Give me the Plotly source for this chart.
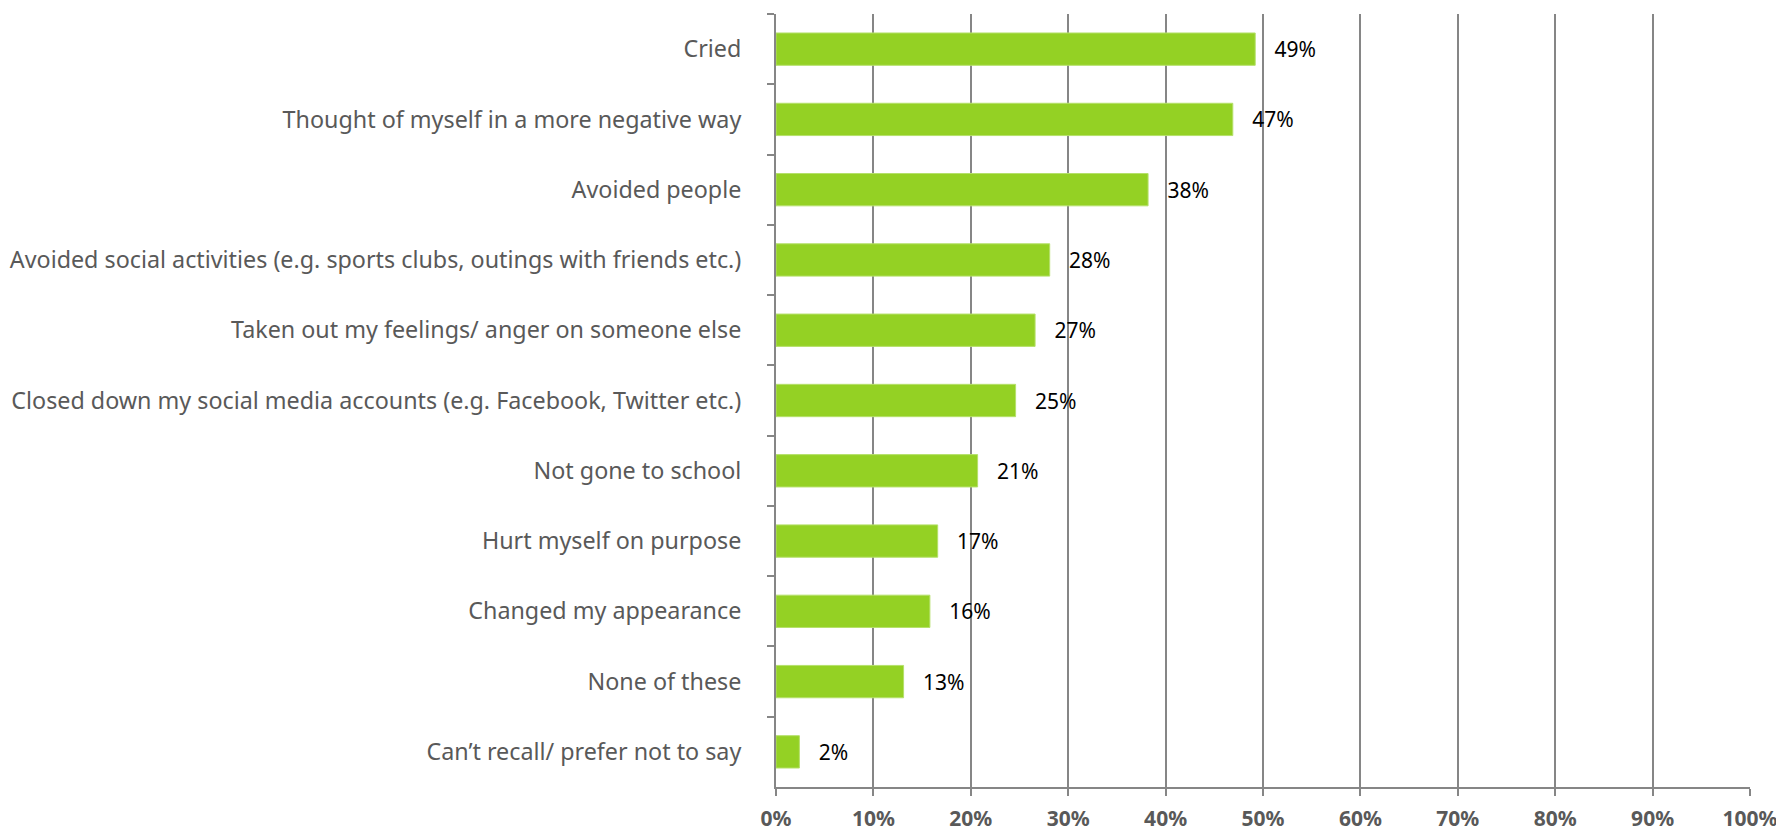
import plotly.graph_objects as go

categories = [
    "Cried",
    "Thought of myself in a more negative way",
    "Avoided people",
    "Avoided social activities (e.g. sports clubs, outings with friends etc.)",
    "Taken out my feelings/ anger on someone else",
    "Closed down my social media accounts (e.g. Facebook, Twitter etc.)",
    "Not gone to school",
    "Hurt myself on purpose",
    "Changed my appearance",
    "None of these",
    "Can\u2019t recall/ prefer not to say",
]
values = [49.2, 46.9, 38.2, 28.1, 26.6, 24.6, 20.7, 16.6, 15.8, 13.1, 2.4]
x_ticks = [0, 10, 20, 30, 40, 50, 60, 70, 80, 90, 100]
x_tick_labels = [f"{t}%" for t in x_ticks]

GRAY = "#868686"
FONT = "Noto Sans"

fig = go.Figure(
    go.Bar(
        y=categories,
        x=values,
        orientation="h",
        marker=dict(color="#94D124", line=dict(color="#B5E06A", width=1)),
        texttemplate="\u00a0\u00a0\u00a0%{x:.0f}%",
        textposition="outside",
        textfont=dict(family=FONT, size=21, color="#000000"),
        cliponaxis=False,
        hoverinfo="skip",
    )
)

# page body has an 8px default margin, so the figure is sized/margined to compensate
fig.update_layout(
    width=1776,
    height=824,
    margin=dict(l=768, r=34, t=6, b=45, autoexpand=False),
    paper_bgcolor="white",
    plot_bgcolor="white",
    bargap=0.54,
    showlegend=False,
)

fig.update_yaxes(
    autorange="reversed",
    type="category",
    tickson="boundaries",
    ticks="outside",
    ticklen=7,
    tickwidth=1.5,
    tickcolor=GRAY,
    showline=True,
    linecolor=GRAY,
    linewidth=2,
    showgrid=False,
    automargin=False,
    tickfont=dict(family=FONT, size=23.3, color="#595959"),
    ticklabelstandoff=28,
)

fig.update_xaxes(
    range=[0, 100],
    tickvals=x_ticks,
    ticktext=x_tick_labels,
    ticks="outside",
    ticklen=7,
    tickwidth=1.5,
    tickcolor=GRAY,
    showline=True,
    linecolor=GRAY,
    linewidth=2,
    showgrid=True,
    gridcolor=GRAY,
    gridwidth=1.5,
    zeroline=False,
    automargin=False,
    tickfont=dict(family=FONT, size=21, color="#595959", weight="bold"),
    ticklabelstandoff=5,
)

fig.write_html("out.html")
